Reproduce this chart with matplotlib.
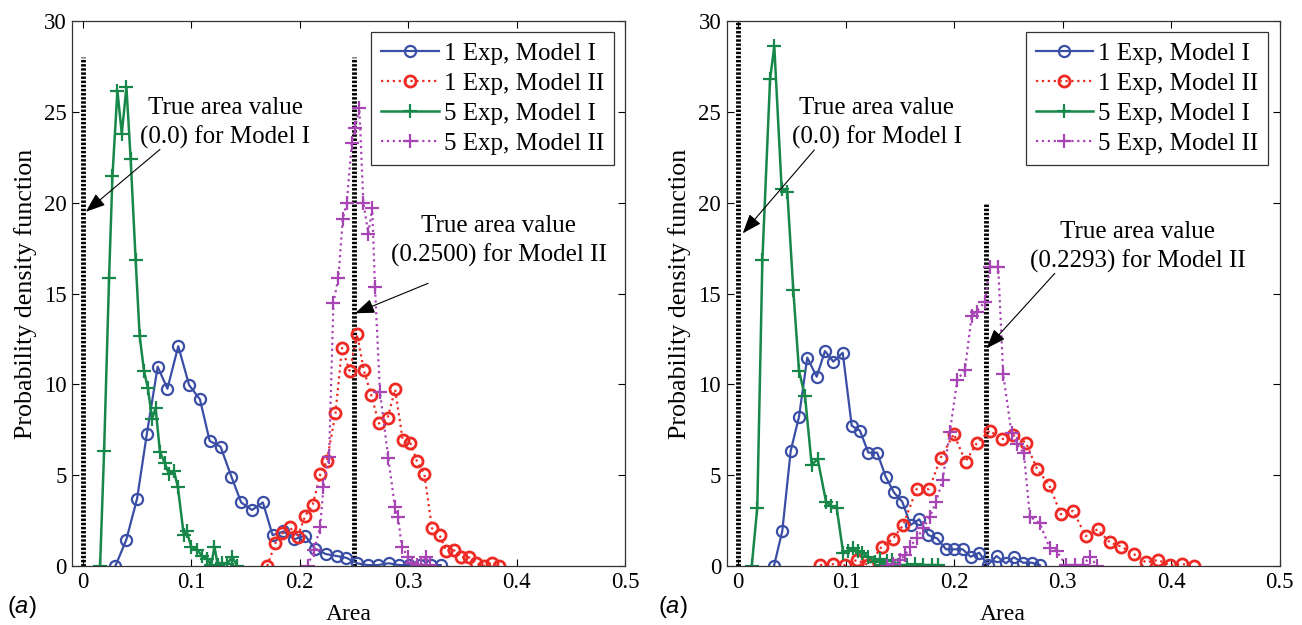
import numpy as np
import matplotlib
matplotlib.use('Agg')
import matplotlib.pyplot as plt

plt.rcParams['font.family'] = ['Liberation Serif', 'DejaVu Serif']
plt.rcParams['mathtext.fontset'] = 'custom'
plt.rcParams['mathtext.it'] = 'Liberation Sans:italic'
plt.rcParams['mathtext.rm'] = 'Liberation Sans'

# ---- Panel 1 data ----
l_b_x = [0.030, 0.040, 0.050, 0.059, 0.069, 0.078, 0.088, 0.098, 0.108, 0.117, 0.127, 0.137, 0.146, 0.156,
         0.166, 0.175, 0.185, 0.195, 0.205, 0.214, 0.224, 0.234, 0.243, 0.253, 0.263, 0.272, 0.282, 0.292,
         0.301, 0.311, 0.321, 0.330]
l_b_y = [0, 1.43, 3.7, 7.26, 10.97, 9.76, 12.1, 9.96, 9.17, 6.88, 6.57, 4.92, 3.5, 3.08, 3.5, 1.7, 1.9,
         1.47, 1.67, 0.95, 0.66, 0.55, 0.45, 0.15, 0.05, 0.05, 0.15, 0.05, 0.05, 0.05, 0.05, 0.05]

l_r_x = [0.170, 0.1775, 0.184, 0.191, 0.198, 0.205, 0.212, 0.219, 0.225, 0.233, 0.239, 0.246, 0.253, 0.259,
         0.266, 0.273, 0.281, 0.288, 0.295, 0.302, 0.308, 0.315, 0.322, 0.329, 0.335, 0.342, 0.349, 0.356,
         0.363, 0.370, 0.377, 0.384]
l_r_y = [0, 1.25, 1.8, 2.13, 1.6, 2.75, 3.38, 5.05, 5.78, 8.4, 12.0, 10.75, 12.75, 10.8, 9.4, 7.85, 8.13,
         9.72, 6.93, 6.79, 5.78, 5.06, 2.07, 1.7, 0.84, 0.88, 0.48, 0.48, 0.15, 0, 0.18, 0]

l_g_x = [0.0159, 0.0196, 0.0242, 0.0273, 0.0319, 0.0359, 0.0402, 0.0441, 0.0487, 0.0524, 0.0564, 0.0600,
         0.0639, 0.0671, 0.0711, 0.0757, 0.0794, 0.0840, 0.0876, 0.0931, 0.0956, 0.1000, 0.1055, 0.1101,
         0.1147, 0.1183, 0.1214, 0.1244, 0.1285, 0.1331, 0.1377, 0.1423]
l_g_y = [0, 6.33, 15.87, 21.46, 26.16, 23.8, 26.35, 22.4, 16.84, 12.66, 10.75, 9.78, 8.1, 8.7, 6.29, 5.65,
         5.05, 5.24, 4.36, 1.7, 1.94, 1.06, 0.88, 0.55, 0.37, 0.05, 1.06, 0.05, 0.15, 0.1, 0.51, 0]

l_m_x = [0.2072, 0.2133, 0.2189, 0.2219, 0.2271, 0.2311, 0.2357, 0.2397, 0.2434, 0.2480, 0.2510, 0.2550,
         0.2587, 0.2633, 0.2669, 0.2694, 0.2740, 0.2817, 0.2878, 0.2908, 0.2940, 0.3000, 0.3032, 0.3083,
         0.3117, 0.3163, 0.3200]
l_m_y = [0, 0.88, 2.17, 4.36, 6.02, 14.5, 15.87, 19.1, 20.0, 23.26, 24.1, 25.2, 20.0, 18.3, 19.7, 15.37,
         9.6, 5.93, 3.27, 2.72, 1.06, 0.51, 0.18, 0.05, 0.05, 0.51, 0.05]

# ---- Panel 2 data ----
r_b_x = [0.0336, 0.0413, 0.0490, 0.0567, 0.0643, 0.0730, 0.0806, 0.0883, 0.0970, 0.1053, 0.1129, 0.1206,
         0.1288, 0.1366, 0.1442, 0.1519, 0.1596, 0.1676, 0.1759, 0.1841, 0.1922, 0.1998, 0.2076, 0.2149,
         0.2229, 0.2306, 0.2389, 0.2475, 0.2548, 0.2634, 0.2712, 0.2788]
r_b_y = [0, 1.94, 6.33, 8.22, 11.47, 10.42, 11.83, 11.25, 11.74, 7.72, 7.45, 6.24, 6.24, 4.92, 4.05, 3.54,
         2.26, 2.57, 1.7, 1.52, 0.92, 0.92, 0.92, 0.51, 0.73, 0.05, 0.55, 0.15, 0.48, 0.18, 0.18, 0.05]

r_r_x = [0.0760, 0.0883, 0.0991, 0.1099, 0.1206, 0.1329, 0.1430, 0.1528, 0.1652, 0.1768, 0.1873, 0.1995,
         0.2103, 0.2205, 0.2327, 0.2435, 0.2542, 0.2659, 0.2762, 0.2874, 0.2982, 0.3095, 0.3212, 0.3320,
         0.3433, 0.3541, 0.3654, 0.3765, 0.3878, 0.3986, 0.4100, 0.4210]
r_r_y = [0.05, 0.1, 0.05, 0.33, 0.05, 1.06, 1.47, 2.26, 4.24, 4.24, 5.96, 7.26, 5.74, 6.75, 7.45, 6.97,
         7.21, 6.79, 5.34, 4.46, 2.85, 3.03, 1.65, 2.02, 1.3, 1.06, 0.66, 0.2, 0.33, 0.05, 0.1, 0.02]

r_g_x = [0.0131, 0.0182, 0.0229, 0.0300, 0.0339, 0.0407, 0.0459, 0.0514, 0.0567, 0.0622, 0.0684, 0.0739,
         0.0816, 0.0862, 0.0914, 0.0975, 0.1018, 0.1067, 0.1111, 0.1145, 0.1206, 0.1267, 0.1313, 0.1344,
         0.1382, 0.1421, 0.1482, 0.1559, 0.1636, 0.1712, 0.1790, 0.1851]
r_g_y = [0, 3.21, 16.84, 26.8, 28.6, 20.73, 20.6, 15.2, 10.73, 9.36, 5.56, 5.89, 3.54, 3.3, 3.21, 0.7, 0.8,
         0.97, 0.8, 0.7, 0.51, 0.24, 0.4, 0.05, 0.3, 0.33, 0.05, 0.05, 0.1, 0.05, 0.05, 0.05]

r_m_x = [0.1375, 0.1433, 0.1498, 0.1544, 0.1590, 0.1652, 0.1712, 0.1774, 0.1829, 0.1891, 0.1959, 0.2026,
         0.2097, 0.2159, 0.2205, 0.2281, 0.2327, 0.2404, 0.2450, 0.2527, 0.2576, 0.2641, 0.2696, 0.2788,
         0.2880, 0.2942, 0.3028, 0.3111, 0.3187, 0.3249, 0.3316]
r_m_y = [0, 0.1, 0.33, 0.6, 1.06, 1.52, 2.07, 2.72, 3.5, 4.73, 7.39, 10.24, 10.79, 13.76, 14.0, 14.55,
         16.47, 16.47, 10.55, 7.3, 6.7, 6.2, 2.72, 2.35, 0.97, 0.84, 0.05, 0.05, 0.05, 0.51, 0]

labels = ['1 Exp, Model I', '1 Exp, Model II', '5 Exp, Model I', '5 Exp, Model II']
c_blue, c_red, c_green, c_mag = '#3b4ea6', '#ee2a24', '#17884a', '#a645b3'

panels = [
    dict(series=[(l_b_x, l_b_y), (l_r_x, l_r_y), (l_g_x, l_g_y), (l_m_x, l_m_y)],
         vlines=[(0.0, 28), (0.25, 28)],
         notes=[('True area value\n(0.0) for Model I', (0.1315, 24.4), (0.0711, 22.93), (0.0028, 19.5)),
                ('True area value\n(0.2500) for Model II', (0.3834, 17.9), (0.3184, 15.56), (0.251, 13.91))]),
    dict(series=[(r_b_x, r_b_y), (r_r_x, r_r_y), (r_g_x, r_g_y), (r_m_x, r_m_y)],
         vlines=[(0.0, 30), (0.2293, 20)],
         notes=[('True area value\n(0.0) for Model I', (0.1286, 24.4), (0.0708, 22.9), (0.0048, 18.31)),
                ('True area value\n(0.2293) for Model II', (0.369, 17.55), (0.2926, 16.11), (0.2297, 11.98))]),
]

fig = plt.figure(figsize=(13.02, 6.25), dpi=100)
lefts = [72 / 1302, 726.7 / 1302]
styles = [
    dict(color=c_blue, ls='-', lw=1.6, marker='o', ms=8, mfc='none', mew=1.6),
    dict(color=c_red, ls=':', lw=1.6, marker='o', ms=8, mfc='none', mew=2.0),
    dict(color=c_green, ls='-', lw=1.8, marker='+', ms=10, mew=1.6),
    dict(color=c_mag, ls=':', lw=1.6, marker='+', ms=10, mew=1.6),
]

for k, p in enumerate(panels):
    ax = fig.add_axes([lefts[k], 1 - 566 / 625, 553 / 1302, 545 / 625])
    for (xs, ys), st, lab in zip(p['series'], styles, labels):
        ax.plot(xs, ys, label=lab, **st)
    for xv, top in p['vlines']:
        ax.plot([xv, xv], [0, top], color='black', lw=3.5, ls=(0, (0.5, 0.35)), zorder=1)
    for txt, tpos, tail, head in p['notes']:
        ax.text(tpos[0], tpos[1], txt, ha='center', va='center', fontsize=18, linespacing=1.38)
        ax.annotate('', xy=head, xytext=tail,
                    arrowprops=dict(arrowstyle='-|>,head_length=0.8,head_width=0.3', color='black',
                                    lw=0.8, shrinkA=0, shrinkB=0, mutation_scale=15))
    ax.set_xlim(-0.01, 0.5)
    ax.set_ylim(0, 30)
    ax.set_xticks([0, 0.1, 0.2, 0.3, 0.4, 0.5])
    ax.set_xticklabels(['0', '0.1', '0.2', '0.3', '0.4', '0.5'])
    ax.set_yticks([0, 5, 10, 15, 20, 25, 30])
    ax.tick_params(direction='in', top=True, right=True, length=5, width=0.8, labelsize=16.5, pad=4)
    for s in ax.spines.values():
        s.set_linewidth(0.9)
        s.set_color('#333333')
    ax.set_xlabel('Area', fontsize=17, labelpad=8)
    ax.set_ylabel('Probability density function', fontsize=18.7, labelpad=5)
    leg = ax.legend(loc='upper right', fontsize=18, frameon=True, fancybox=False, framealpha=1,
                    edgecolor='#333333', handlelength=2.3, handletextpad=0.2, labelspacing=0.3,
                    borderpad=0.4, borderaxespad=0.45)
    leg.get_frame().set_linewidth(0.9)

fig.text(22 / 1302, 1 - 607 / 625, r'($a$)', fontsize=17, family='Liberation Sans', ha='center', va='center')
fig.text(673 / 1302, 1 - 607 / 625, r'($a$)', fontsize=17, family='Liberation Sans', ha='center', va='center')

plt.savefig('out.png', dpi=100)
